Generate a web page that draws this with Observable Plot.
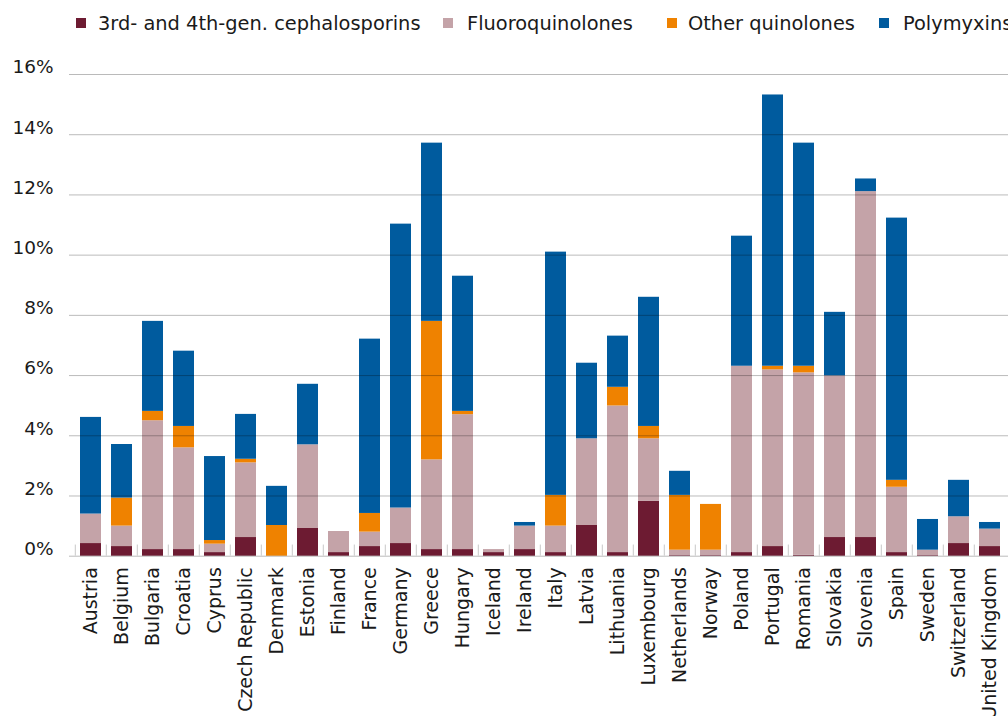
<!DOCTYPE html>
<html><head><meta charset="utf-8">
<script src="https://cdn.jsdelivr.net/npm/d3@7"></script>
<script src="https://cdn.jsdelivr.net/npm/@observablehq/plot@0.6"></script>
<style>
html,body{margin:0;padding:0;background:#fff;overflow:hidden;}
body{width:1008px;height:716px;font-family:"DejaVu Sans",Verdana,sans-serif;}
#legend{position:relative;width:1008px;height:45px;overflow:hidden;white-space:nowrap;}
.sw{position:absolute;top:18px;width:10px;height:10px;}
.lt{position:absolute;top:13px;font-size:19.4px;line-height:22px;color:#1a1a1a;}
#chart{width:1008px;overflow:hidden;}
</style></head><body>
<div id="legend"></div>
<div id="chart"></div>
<script>
const countries = ["Austria","Belgium","Bulgaria","Croatia","Cyprus","Czech Republic","Denmark","Estonia","Finland","France","Germany","Greece","Hungary","Iceland","Ireland","Italy","Latvia","Lithuania","Luxembourg","Netherlands","Norway","Poland","Portugal","Romania","Slovakia","Slovenia","Spain","Sweden","Switzerland","United Kingdom"];
const cephalosporins = [0.42,0.32,0.22,0.22,0.12,0.62,0,0.92,0.12,0.32,0.42,0.22,0.22,0.12,0.22,0.12,1.02,0.12,1.82,0.02,0.02,0.12,0.32,0.03,0.62,0.62,0.12,0.02,0.42,0.32];
const fluoroquinolones = [0.98,0.68,4.28,3.38,0.28,2.48,0,2.78,0.70,0.48,1.18,2.98,4.48,0.10,0.78,0.88,2.88,4.87,2.08,0.18,0.18,6.19,5.87,6.06,5.37,11.49,2.17,0.18,0.89,0.58];
const otherQuinolones = [0,0.93,0.31,0.71,0.12,0.12,1.02,0,0,0.62,0,4.60,0.11,0,0,1.02,0,0.62,0.41,1.82,1.52,0,0.12,0.22,0,0,0.23,0,0,0];
const polymyxins = [3.21,1.78,2.99,2.50,2.79,1.49,1.30,2.01,0,5.79,9.43,5.92,4.49,0,0.12,8.08,2.51,1.70,4.29,0.80,0,4.32,9.01,7.41,2.11,0.42,8.71,1.02,1.21,0.22];
const classes = ["3rd- and 4th-gen. cephalosporins","Fluoroquinolones","Other quinolones","Polymyxins"];
const colors = ["#6d1b32","#c4a3a8","#ef8200","#005b9e"];
const yTicks = [0,2,4,6,8,10,12,14,16];

const series = [cephalosporins, fluoroquinolones, otherQuinolones, polymyxins];
const rows = [];
countries.forEach((c, i) => series.forEach((s, k) => rows.push({country: c, cls: classes[k], value: s[i]})));

// legend
const legendPos = [[76,98],[443,467],[667,688],[879,903]];
const lg = document.getElementById("legend");
classes.forEach((name, k) => {
  const sw = document.createElement("div");
  sw.className = "sw"; sw.style.left = legendPos[k][0] + "px"; sw.style.background = colors[k];
  const t = document.createElement("div");
  t.className = "lt"; t.style.left = legendPos[k][1] + "px"; t.textContent = name;
  lg.append(sw, t);
});

const x0 = 69, x1 = 1010.4, step = (x1 - x0) / countries.length;
const chart = Plot.plot({
  width: 1008, height: 671,
  marginTop: 29, marginBottom: 160.3, marginLeft: 69, marginRight: 0,
  style: {fontFamily: '"DejaVu Sans", Verdana, sans-serif', fontSize: "18.5px", color: "#1a1a1a", background: "#fff"},
  x: {domain: countries, range: [x0, x1], paddingInner: 0.33, paddingOuter: 0.165, label: null},
  y: {domain: [0, 16], label: null},
  color: {domain: classes, range: colors},
  marks: [
    Plot.barY(rows, {x: "country", y: "value", fill: "cls", order: classes}),
    Plot.ruleY(yTicks, {stroke: "#000", strokeOpacity: 0.27}),
    Plot.ruleX(countries, {x: d => d, dx: -step / 2, y1: 0, y2: 0.37, stroke: "#c8c8c8"}),
    Plot.axisY({ticks: yTicks, tickSize: 0, tickPadding: 16, dy: -7, tickFormat: d => d + "%"}),
    Plot.axisX({tickSize: 0, tickPadding: 11, tickRotate: -90, fontSize: 19})
  ]
});
document.getElementById("chart").append(chart);
</script>
</body></html>
